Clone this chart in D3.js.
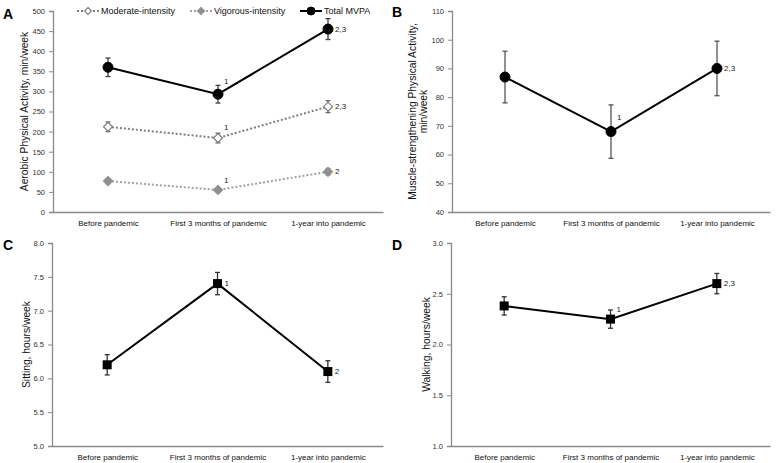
<!DOCTYPE html>
<html><head><meta charset="utf-8">
<script src="https://cdn.jsdelivr.net/npm/d3@7"></script>
<style>body{margin:0;background:#fff}svg{display:block;font-family:"Liberation Sans",Arial,sans-serif}</style>
</head><body><svg id="c" width="776" height="463"></svg>
<script>
const categories = ["Before pandemic", "First 3 months of pandemic", "1-year into pandemic"];
// Panel A
const moderateMean = [212, 184, 262];
const moderateErr = [12, 12, 15];
const moderateNotes = ["", "1", "2,3"];
const vigorousMean = [77, 55, 100];
const vigorousErr = [6, 5, 8];
const vigorousNotes = ["", "1", "2"];
const totalMean = [360, 293, 455];
const totalErr = [23, 22, 26];
const totalNotes = ["", "1", "2,3"];
const ticksA = [0, 50, 100, 150, 200, 250, 300, 350, 400, 450, 500];
// Panel B
const muscleMean = [87, 68, 90];
const muscleErr = [9, 9.3, 9.5];
const muscleNotes = ["", "1", "2,3"];
const ticksB = [40, 50, 60, 70, 80, 90, 100, 110];
// Panel C
const sittingMean = [6.2, 7.4, 6.1];
const sittingErr = [0.15, 0.165, 0.16];
const sittingNotes = ["", "1", "2"];
const ticksC = [5.0, 5.5, 6.0, 6.5, 7.0, 7.5, 8.0];
// Panel D
const walkingMean = [2.38, 2.25, 2.60];
const walkingErr = [0.09, 0.09, 0.10];
const walkingNotes = ["", "1", "2,3"];
const ticksD = [1.0, 1.5, 2.0, 2.5, 3.0];

const svg = d3.select("#c");
const AXIS = "#8a8a8a", TXT = "#333";

function panel(o) {
  const g = svg.append("g");
  const x = d3.scalePoint().domain(categories).range([o.x0, o.x1]).padding(0.5);
  const y = d3.scaleLinear().domain(o.domain).range([o.yb, o.yt]);
  // y axis
  const ya = g.append("g").attr("transform", `translate(${o.x0},0)`)
    .call(d3.axisLeft(y).tickValues(o.ticks).tickSize(4).tickPadding(4).tickFormat(o.fmt));
  ya.select(".domain").attr("stroke", AXIS).attr("stroke-width", 1.3);
  ya.selectAll(".tick line").attr("stroke", AXIS).attr("stroke-width", 1);
  ya.selectAll(".tick text").attr("fill", TXT).style("font-size", "7.5px").style("font-family", "Liberation Sans, Arial, sans-serif");
  // x axis
  const xa = g.append("g").attr("transform", `translate(0,${o.yb})`)
    .call(d3.axisBottom(x).tickSize(0).tickPadding(8).tickSizeOuter(0));
  xa.select(".domain").attr("stroke", AXIS).attr("stroke-width", 1.3);
  xa.selectAll(".tick text").attr("fill", "#111").style("font-size", "8px").style("font-family", "Liberation Sans, Arial, sans-serif");
  // y title
  const cy = (o.yb + o.yt) / 2;
  o.title.forEach((t, i) => {
    g.append("text").attr("transform", `translate(${o.tx + i * 11},${cy}) rotate(-90)`)
      .attr("text-anchor", "middle").attr("dominant-baseline", "central")
      .style("font-size", "10.3px").attr("fill", "#111").text(t);
  });
  // letter
  g.append("text").attr("x", o.lx).attr("y", o.ly).style("font-size", "14px").style("font-weight", "bold").attr("fill", "#000").text(o.letter);

  o.series.forEach(s => {
    const pts = categories.map((c, i) => ({ c, v: s.mean[i], e: s.err[i], n: s.notes[i], p: s.place[i] }));
    const line = d3.line().x(d => x(d.c)).y(d => y(d.v));
    g.append("path").datum(pts).attr("d", line).attr("fill", "none")
      .attr("stroke", s.color).attr("stroke-width", s.width).attr("stroke-dasharray", s.dash || null);
    // error bars
    const eb = g.append("g").attr("stroke", s.errColor).attr("stroke-width", 1.3);
    pts.forEach(d => {
      const xx = x(d.c);
      eb.append("line").attr("x1", xx).attr("x2", xx).attr("y1", y(d.v + d.e)).attr("y2", y(d.v - d.e));
      eb.append("line").attr("x1", xx - 2.5).attr("x2", xx + 2.5).attr("y1", y(d.v + d.e)).attr("y2", y(d.v + d.e));
      eb.append("line").attr("x1", xx - 2.5).attr("x2", xx + 2.5).attr("y1", y(d.v - d.e)).attr("y2", y(d.v - d.e));
    });
    // markers
    pts.forEach(d => drawMarker(g, s.marker, x(d.c), y(d.v), s));
    // notes
    pts.forEach(d => {
      if (!d.n) return;
      const dx = d.p === "r" ? 7 : 6, dy = d.p === "r" ? 0 : s.noteUp;
      g.append("text").attr("x", x(d.c) + dx).attr("y", y(d.v) + dy).attr("dominant-baseline", "central")
        .style("font-size", "8px").attr("fill", "#222").text(d.n);
    });
  });
}

function drawMarker(g, type, cx, cy, s) {
  if (type === "circle") {
    g.append("circle").attr("cx", cx).attr("cy", cy).attr("r", s.size).attr("fill", s.fill).attr("stroke", s.stroke).attr("stroke-width", 1);
  } else if (type === "square") {
    g.append("rect").attr("x", cx - s.size).attr("y", cy - s.size).attr("width", s.size * 2).attr("height", s.size * 2).attr("fill", s.fill);
  } else if (type === "diamond") {
    const r = s.size;
    g.append("path").attr("d", `M${cx},${cy - r}L${cx + r},${cy}L${cx},${cy + r}L${cx - r},${cy}Z`)
      .attr("fill", s.fill).attr("stroke", s.stroke).attr("stroke-width", 1.2);
  }
}

const f0 = d3.format("d"), f1 = d3.format(".1f");
const moderateStyle = { color: "#7f7f7f", width: 2, dash: "2,2", errColor: "#6a6a6a", marker: "diamond", size: 4.5, fill: "#fff", stroke: "#7f7f7f", noteUp: -11 };
const vigorousStyle = { color: "#a0a0a0", width: 2, dash: "2,2", errColor: "#8a8a8a", marker: "diamond", size: 4.5, fill: "#8f8f8f", stroke: "#8f8f8f", noteUp: -9 };
const totalStyle = { color: "#000", width: 2, errColor: "#404040", marker: "circle", size: 5, fill: "#000", stroke: "#000", noteUp: -13 };

panel({ letter: "A", lx: 3, ly: 19, x0: 53, x1: 383, yt: 11, yb: 212, domain: [0, 500], ticks: ticksA, fmt: f0,
  title: ["Aerobic Physical Activity, min/week"], tx: 24,
  series: [
    Object.assign({ mean: moderateMean, err: moderateErr, notes: moderateNotes, place: ["", "u", "r"] }, moderateStyle),
    Object.assign({ mean: vigorousMean, err: vigorousErr, notes: vigorousNotes, place: ["", "u", "r"] }, vigorousStyle),
    Object.assign({ mean: totalMean, err: totalErr, notes: totalNotes, place: ["", "u", "r"] }, totalStyle)
  ] });

panel({ letter: "B", lx: 392, ly: 17, x0: 452, x1: 770, yt: 11, yb: 212, domain: [40, 110], ticks: ticksB, fmt: f0,
  title: ["Muscle-strengthening Physical Activity,", "min/week"], tx: 412,
  series: [Object.assign({ mean: muscleMean, err: muscleErr, notes: muscleNotes, place: ["", "u", "r"] }, totalStyle, { errColor: "#555", noteUp: -14 })] });

const sqStyle = { color: "#000", width: 2, errColor: "#333", marker: "square", size: 4.5, fill: "#000", stroke: "#000", noteUp: -10 };
panel({ letter: "C", lx: 3, ly: 250, x0: 52, x1: 383, yt: 243, yb: 446, domain: [5, 8], ticks: ticksC, fmt: f1,
  title: ["Sitting, hours/week"], tx: 26,
  series: [Object.assign({ mean: sittingMean, err: sittingErr, notes: sittingNotes, place: ["", "r", "r"] }, sqStyle)] });

panel({ letter: "D", lx: 392, ly: 250, x0: 451, x1: 770, yt: 243, yb: 446, domain: [1, 3], ticks: ticksD, fmt: f1,
  title: ["Walking, hours/week"], tx: 426,
  series: [Object.assign({ mean: walkingMean, err: walkingErr, notes: walkingNotes, place: ["", "u", "r"] }, sqStyle)] });

// Legend for panel A
const legend = [
  { label: "Moderate-intensity", x: 77, st: moderateStyle },
  { label: "Vigorous-intensity", x: 190, st: vigorousStyle },
  { label: "Total MVPA", x: 300, st: totalStyle }
];
const lg = svg.append("g");
legend.forEach(l => {
  const ly = 11;
  lg.append("line").attr("x1", l.x).attr("x2", l.x + 22).attr("y1", ly).attr("y2", ly)
    .attr("stroke", l.st.color).attr("stroke-width", 2).attr("stroke-dasharray", l.st.dash || null);
  drawMarker(lg, l.st.marker, l.x + 11, ly, Object.assign({}, l.st, { size: l.st.marker === "circle" ? 4 : 3.5 }));
  lg.append("text").attr("x", l.x + 24).attr("y", ly).attr("dominant-baseline", "central")
    .style("font-size", "9px").attr("fill", "#111").text(l.label);
});
</script></body></html>
